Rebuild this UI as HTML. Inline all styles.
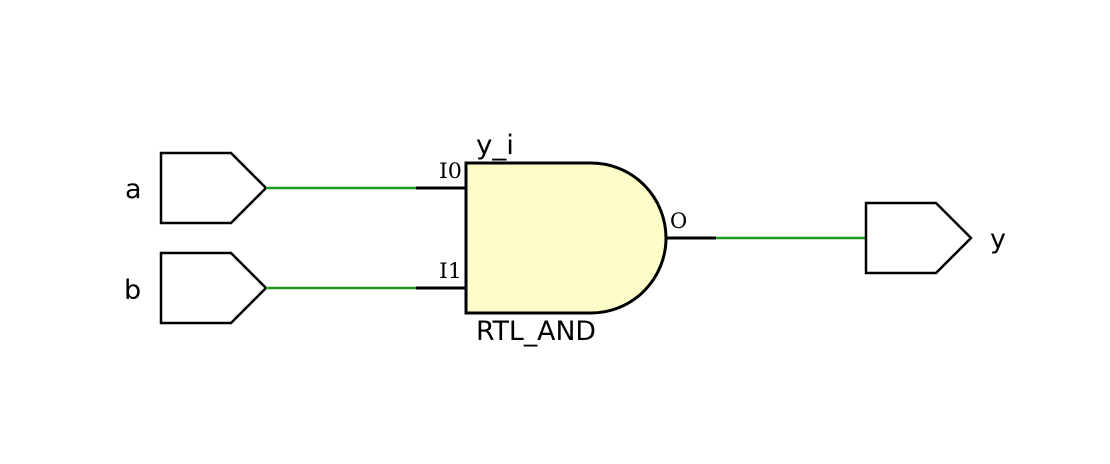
<!DOCTYPE html>
<html><head><meta charset="utf-8"><style>
html,body{margin:0;padding:0;background:#fff;}
svg{display:block;}
text{font-family:"DejaVu Sans","Liberation Sans",sans-serif;fill:#000;}
.pin{font-family:"DejaVu Serif","Liberation Serif",serif;font-size:21px;}
</style></head><body>
<svg width="1110" height="464" viewBox="0 0 1110 464">
<g>
<polygon points="161,153 231,153 266,188 231,223 161,223" fill="#fff" stroke="#000" stroke-width="2.5"/>
<text x="125" y="198" font-size="27">a</text>
</g>
<g>
<polygon points="161,253 231,253 266,288 231,323 161,323" fill="#fff" stroke="#000" stroke-width="2.5"/>
<text x="124" y="299" font-size="27">b</text>
</g>
<line x1="266" y1="188" x2="416" y2="188" stroke="#1e9a1e" stroke-width="2.5"/>
<line x1="266" y1="288" x2="416" y2="288" stroke="#1e9a1e" stroke-width="2.5"/>
<line x1="416" y1="188" x2="466" y2="188" stroke="#000" stroke-width="3"/>
<line x1="416" y1="288" x2="466" y2="288" stroke="#000" stroke-width="3"/>
<g>
<path d="M466,163 L591,163 A75,75 0 0 1 591,313 L466,313 Z" fill="#fdfdc9" stroke="#000" stroke-width="3"/>
</g>
<text x="476" y="154" font-size="27" textLength="38" lengthAdjust="spacingAndGlyphs">y_i</text>
<text x="476" y="340" font-size="27" textLength="120" lengthAdjust="spacingAndGlyphs">RTL_AND</text>
<text x="439" y="178" class="pin" textLength="23" lengthAdjust="spacingAndGlyphs">I0</text>
<text x="439" y="278" class="pin" textLength="23" lengthAdjust="spacingAndGlyphs">I1</text>
<text x="670" y="228" class="pin">O</text>
<line x1="666" y1="238" x2="716" y2="238" stroke="#000" stroke-width="3"/>
<line x1="716" y1="238" x2="866" y2="238" stroke="#1e9a1e" stroke-width="2.5"/>
<g>
<polygon points="866,203 936,203 971,238 936,273 866,273" fill="#fff" stroke="#000" stroke-width="2.5"/>
<text x="990" y="248" font-size="27">y</text>
</g>
</svg>
</body></html>
